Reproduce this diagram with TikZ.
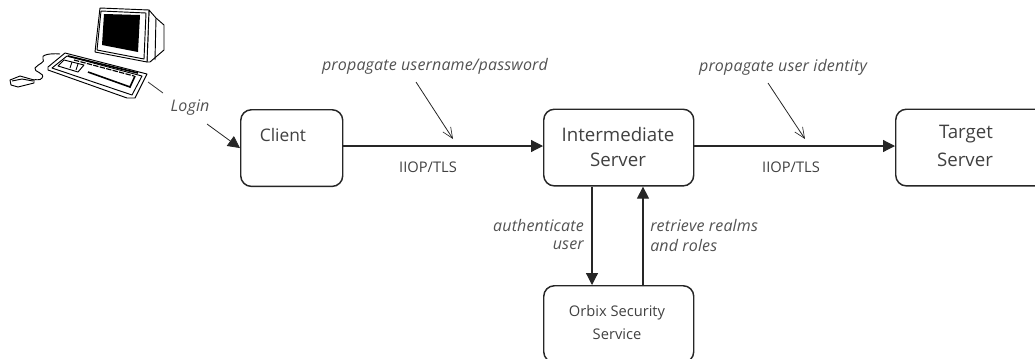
\documentclass[tikz,border=0pt]{standalone}
\usepackage{fontspec}
\setmainfont{Open Sans}
\usetikzlibrary{arrows.meta}
\tikzset{
  x=0.75pt,y=-0.75pt,
  boxnode/.style={draw=black!85,line width=1.1pt,rounded corners=8pt,inner sep=0pt,anchor=north west},
  flow/.style={draw=black!85,line width=.9pt,-{Triangle[length=9pt,width=9pt]}},
  thinflow/.style={draw=black!85,line width=.6pt,-{Triangle[length=9pt,width=9pt]}},
  pointer/.style={draw=black!85,line width=.6pt,-{Straight Barb[length=8pt,width=7pt,line width=.5pt]}},
  plain/.style={draw=black!80,line width=.6pt},
  big/.style={font=\fontsize{14}{15}\selectfont,text=black!75,align=center,inner sep=0pt},
  mid/.style={font=\fontsize{11}{15}\selectfont,text=black!75,align=center,inner sep=0pt},
  note/.style={font=\fontsize{12}{15}\itshape\selectfont\addfontfeature{LetterSpace=1},text=black!68,inner sep=0pt},
  kit/.style={draw=black,line width=.7pt,line join=round,fill=white}
}
\begin{document}
\begin{tikzpicture}
\useasboundingbox (0,0) rectangle (1035,358);
\clip (0,0) rectangle (1035,358);
% boxes
\node[boxnode,minimum width=76.5pt,minimum height=57.5pt] (client) at (240,109) {};
\node[boxnode,minimum width=112.5pt,minimum height=57.5pt] (inter) at (543,108.5) {};
\node[boxnode,minimum width=112.5pt,minimum height=57.5pt] (target) at (895,108.5) {};
\node[boxnode,minimum width=112.5pt,minimum height=57.5pt] (orbix) at (543,285) {};
% box texts
\node[big,font=\fontsize{13}{15}\selectfont] (tclient) at (283,135) {Client};
\node[big] (tinter1) at (618,134) {Intermediate};
\node[big] (tinter2) at (618,160) {Server};
\node[big] (ttarget1) at (966,134) {Target};
\node[big] (ttarget2) at (965,160) {Server};
\node[mid] (torb1) at (617,313) {Orbix Security};
\node[mid] (torb2) at (617,334) {Service};
% flows
\coordinate (l1) at (207,124);
\draw[thinflow] (l1) -- (client.west);
\draw[flow] (client.east |- 0,146) -- (inter.west |- 0,146);
\draw[flow] (inter.east |- 0,146) -- (target.west |- 0,146);
\draw[flow] (inter.south -| 592,0) -- (orbix.north -| 592,0);
\draw[flow] (orbix.north -| 643,0) -- (inter.south -| 643,0);
% labels
\node[mid] (iiop1) at (428,167) {IIOP/TLS};
\node[mid] (iiop2) at (791,167) {IIOP/TLS};
\node[note] (prop1) at (435,66) {propagate username/password};
\node[note] (prop2) at (783,67) {propagate user identity};
\node[note,anchor=east] (auth1) at (584,225) {authenticate};
\node[note,anchor=east] (auth2) at (584,245) {user};
\node[note,anchor=west] (ret1) at (650,225) {retrieve realms};
\node[note,anchor=west] (ret2) at (650,245) {and roles};
\node[note] (login) at (190,108) {Login};
% pointers
\coordinate (p1s) at (416,82);
\coordinate (p1e) at (453,139);
\coordinate (p2s) at (768,83);
\coordinate (p2e) at (805,139);
\draw[pointer] (p1s) -- (p1e);
\draw[pointer] (p2s) -- (p2e);
\coordinate (k1) at (148,82);
\coordinate (k2) at (163,93);
\draw[plain] (k1) -- (k2);
% computer
\draw[kit] (149,10) -- (156,18) -- (164,25) -- (164,50) -- (150,62) -- (147,62) -- cycle;
\draw[kit] (100,8) -- (149,10) -- (147,62) -- (95,52) -- cycle;
\draw[kit,fill=none] (101,11) -- (146,13) -- (144,59) -- (97,50) -- cycle;
\fill[black] (104,14) -- (140,15) -- (138,52) -- (102,45) -- cycle;
\draw[kit] (156,18) -- (155,60);
\draw[kit] (65,53) -- (147,74) -- (135,98) -- (127,98) -- (48,70) -- (48,67) -- cycle;
\draw[kit,fill=none] (67,56) -- (142,76) -- (132,95) -- (52,68) -- cycle;
\draw[black,line width=1.2pt] (68,56) -- (138,73);
\draw[black,line width=1.2pt] (88,72) -- (130,87) -- (135,76);
\draw[black,line width=.9pt,dash pattern=on 4pt off 1pt] (74,60) -- (134,76);
\draw[kit,fill=none] (64,60) -- (84,65) -- (78,72) -- (58,66) -- cycle;
\draw[kit,fill=none] (72,62) -- (70,68) (78,64) -- (76,70);
\draw[kit,fill=none] (60,54) .. controls (50,53) and (40,55) .. (43,59) .. controls (46,62) and (38,64) .. (35,68) .. controls (33,72) and (46,73) .. (42,78) .. controls (40,81) and (36,79) .. (33,80);
\draw[kit] (10,80) -- (20,76) -- (34,80) -- (34,83) -- (18,87) -- (11,85) -- cycle;
\draw[kit,fill=none] (12,81) -- (22,79) -- (33,81);
\end{tikzpicture}
\end{document}
